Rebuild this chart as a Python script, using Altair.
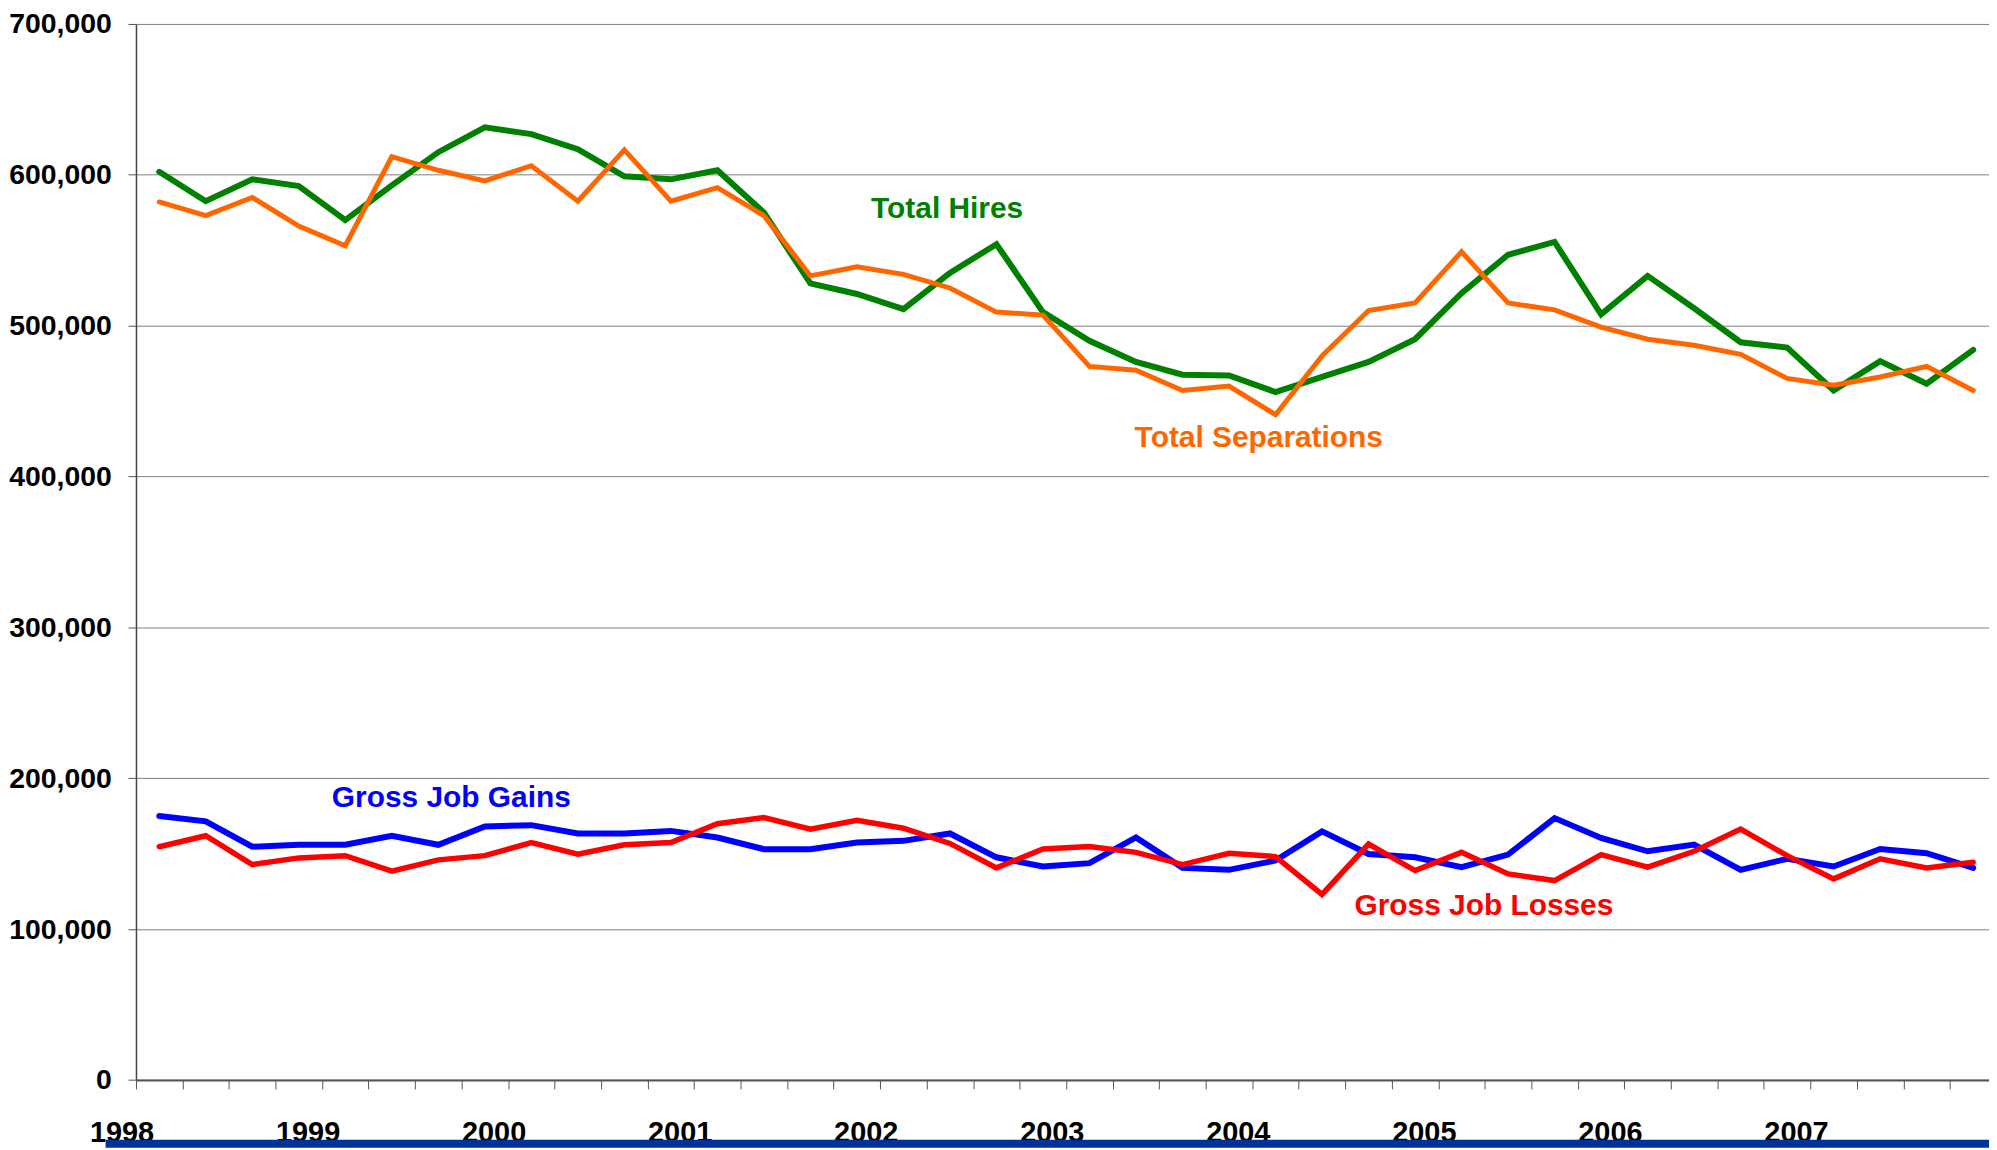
import altair as alt
import pandas as pd

# Quarterly values, 1998Q1 .. 2007Q4 (thousands)
hires = [602, 582.5, 597, 592.5, 570, 593, 615, 631.5, 627, 617,
         599, 597, 603, 575, 528, 521, 511, 535, 554, 509,
         490, 476, 467.5, 467, 456, 466, 476, 491, 521.5, 547,
         555.5, 507.5, 533, 511.5, 489, 485.5, 457, 476.5, 461.5, 484]
separations = [582, 573, 585, 566, 553, 612, 603, 596, 606, 582.5,
               616.5, 582.5, 591.5, 573, 533, 539, 534, 525, 509, 507,
               473, 470.5, 457, 460, 441, 480, 510, 515, 549, 515,
               510.5, 499, 491, 487, 481, 465, 460.5, 466, 473, 457]
gains = [175, 171.4, 154.6, 155.9, 155.9, 161.9, 155.9, 168, 168.9, 163.4,
         163.4, 165.1, 160.7, 153, 153, 157.4, 158.5, 163.4, 147.6, 141.5,
         143.7, 160.8, 140.6, 139.3, 145.5, 164.8, 149.8, 147.6, 141.1, 149.4,
         173.6, 160.4, 151.6, 156, 139.3, 146.6, 141.5, 153.1, 150.3, 140.6]
losses = [154.6, 161.9, 142.8, 147.2, 148.7, 138.4, 145.9, 148.7, 157.4, 149.7,
          155.9, 157.4, 169.9, 173.9, 166.2, 172.1, 166.9, 156.8, 140.6, 153.1,
          154.7, 150.9, 142.8, 150.3, 148.1, 123, 156.4, 138.8, 150.9, 136.6,
          132.2, 149.4, 141.1, 151.6, 166.3, 148.7, 133.3, 146.6, 140.6, 144.3]

years = ["1998", "1999", "2000", "2001", "2002", "2003", "2004", "2005", "2006", "2007"]

series_names = ["Total Hires", "Total Separations", "Gross Job Gains", "Gross Job Losses"]
series_values = [hires, separations, gains, losses]
series_colors = ["#008000", "#FF6600", "#0000FF", "#FF0000"]
series_widths = [6, 5, 6, 5.5]

# annotation anchors (quarter index, value)
label_x = [17.44, 24.14, 6.78, 28.98]
label_y = [571200, 419800, 180700, 109100]

rows = []
for name, vals in zip(series_names, series_values):
    for i, v in enumerate(vals):
        rows.append({"series": name, "q": i + 0.5, "value": v * 1000})
df = pd.DataFrame(rows)

ann = pd.DataFrame({"label": series_names, "x": label_x, "y": label_y, "color": series_colors})
yr = pd.DataFrame({"year": years, "x": [4 * k - 0.3 for k in range(len(years))]})

FONT = "Liberation Sans"
PW, PH = 1860.5, 1060.3

x_scale = alt.Scale(domain=[0, 39.84], nice=False, zero=False)
y_scale = alt.Scale(domain=[0, 700000], nice=False)

x_axis = alt.Axis(values=list(range(40)), labels=False, tickSize=9, tickColor="#555555",
                  tickWidth=1, domainColor="#555555", domainWidth=2, grid=False, title=None)
y_axis = alt.Axis(values=list(range(0, 700001, 100000)), format=",.0f", grid=True,
                  gridColor="#7f7f7f", gridWidth=1, tickSize=8, tickColor="#555555",
                  domainColor="#444444", domainWidth=1.5, labelFont=FONT,
                  labelFontWeight="bold", labelFontSize=28.5, labelColor="black",
                  labelPadding=16.8, title=None)

layers = []
for name, color, w in zip(series_names, series_colors, series_widths):
    layers.append(
        alt.Chart(df).transform_filter(alt.datum.series == name)
        .mark_line(color=color, strokeWidth=w, strokeCap="round", strokeJoin="miter")
        .encode(x=alt.X("q:Q", scale=x_scale, axis=x_axis),
                y=alt.Y("value:Q", scale=y_scale, axis=y_axis))
    )

labels = alt.Chart(ann).mark_text(font=FONT, fontSize=30, fontWeight="bold", align="center",
                                  baseline="alphabetic").encode(
    x=alt.X("x:Q", scale=x_scale, axis=x_axis), y=alt.Y("y:Q", scale=y_scale, axis=y_axis),
    text="label:N", color=alt.Color("color:N", scale=None))

year_labels = alt.Chart(yr).mark_text(font=FONT, fontSize=29, fontWeight="bold", align="center",
                                      baseline="alphabetic", color="black").encode(
    x=alt.X("x:Q", scale=x_scale, axis=x_axis), y=alt.value(PH + 62), text="year:N")

bar = alt.Chart(pd.DataFrame({"a": [0]})).mark_rect(color="#003399").encode(
    x=alt.value(-30.5), x2=alt.value(PW), y=alt.value(PH + 60), y2=alt.value(PH + 68))

chart = alt.layer(*layers, labels, year_labels, bar).properties(
    width=PW, height=PH,
    padding={"left": 128.5, "top": 13.7, "right": 0, "bottom": 68},
    autosize=alt.AutoSizeParams(type="none"),
    background="white",
).configure_view(stroke=None)

chart.save("out.html", embed_options={"renderer": "svg", "actions": False})
